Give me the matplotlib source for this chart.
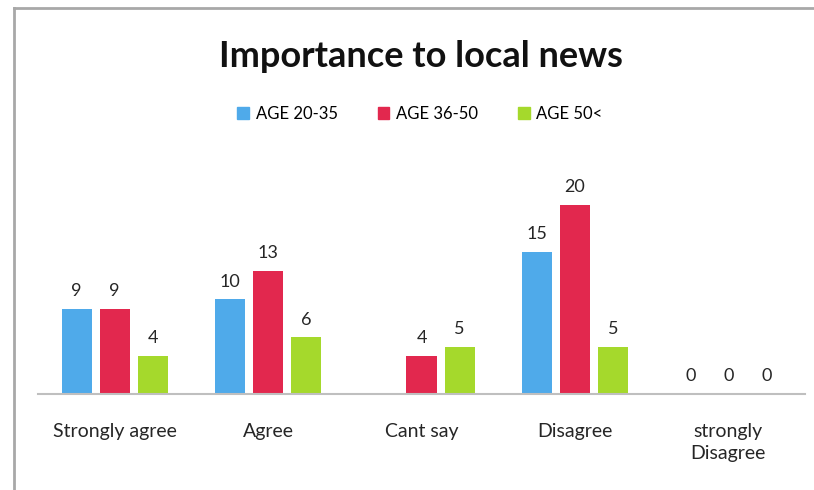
import numpy as np
import matplotlib.pyplot as plt
from matplotlib.lines import Line2D

categories = ["Strongly agree", "Agree", "Cant say", "Disagree", "strongly\nDisagree"]
series_names = ["AGE 20-35", "AGE 36-50", "AGE 50<"]
age_20_35 = [9, 10, np.nan, 15, 0]
age_36_50 = [9, 13, 4, 20, 0]
age_50_up = [4, 6, 5, 5, 0]
colors = ["#4faaea", "#e2284e", "#a5d92c"]

plt.rcParams["font.family"] = ["Lato", "DejaVu Sans"]

fig = plt.figure(figsize=(8.14, 4.9), dpi=100)
ax = fig.add_axes([0.0467, 0.1959, 0.9423, 0.4437])

x = np.arange(len(categories))
width = 0.196
step = 0.248
for i, (vals, col) in enumerate(zip([age_20_35, age_36_50, age_50_up], colors)):
    pos = x + (i - 1) * step
    ax.bar(pos, vals, width=width, color=col, label=series_names[i])
    for px, v in zip(pos, vals):
        if np.isnan(v):
            continue
        ax.annotate(f"{v:g}", (px, v), xytext=(0, 7), textcoords="offset points",
                    ha="center", va="bottom", fontsize=13, color="#262626")

ax.set_xlim(-0.5, len(categories) - 0.5)
ax.set_ylim(0, 23)
ax.set_xticks(x)
ax.set_xticklabels(categories, fontsize=14, color="#262626", linespacing=1.35, va="top")
ax.tick_params(axis="x", length=0, pad=21)
ax.set_yticks([])
for s in ["top", "right", "left"]:
    ax.spines[s].set_visible(False)
ax.spines["bottom"].set_color("#bfbfbf")
ax.spines["bottom"].set_linewidth(1.5)

fig.text(0.517, 0.884, "Importance to local news", ha="center", va="center",
         fontsize=26, fontweight="bold", color="#111111")

handles = [plt.Rectangle((0, 0), 1, 1, color=c) for c in colors]
fig.legend(handles, series_names, loc="center", bbox_to_anchor=(0.516, 0.768),
           ncol=3, frameon=False, fontsize=12, handlelength=0.7, handleheight=0.7,
           handletextpad=0.4, columnspacing=2.4)

# chart frame on the left and top
fig.add_artist(Line2D([0.0172, 0.0172], [0, 0.984], color="#a8a8a8", lw=2,
                      transform=fig.transFigure))
fig.add_artist(Line2D([0.0172, 1.0], [0.984, 0.984], color="#a8a8a8", lw=2,
                      transform=fig.transFigure))

fig.savefig("out.png", dpi=100)
